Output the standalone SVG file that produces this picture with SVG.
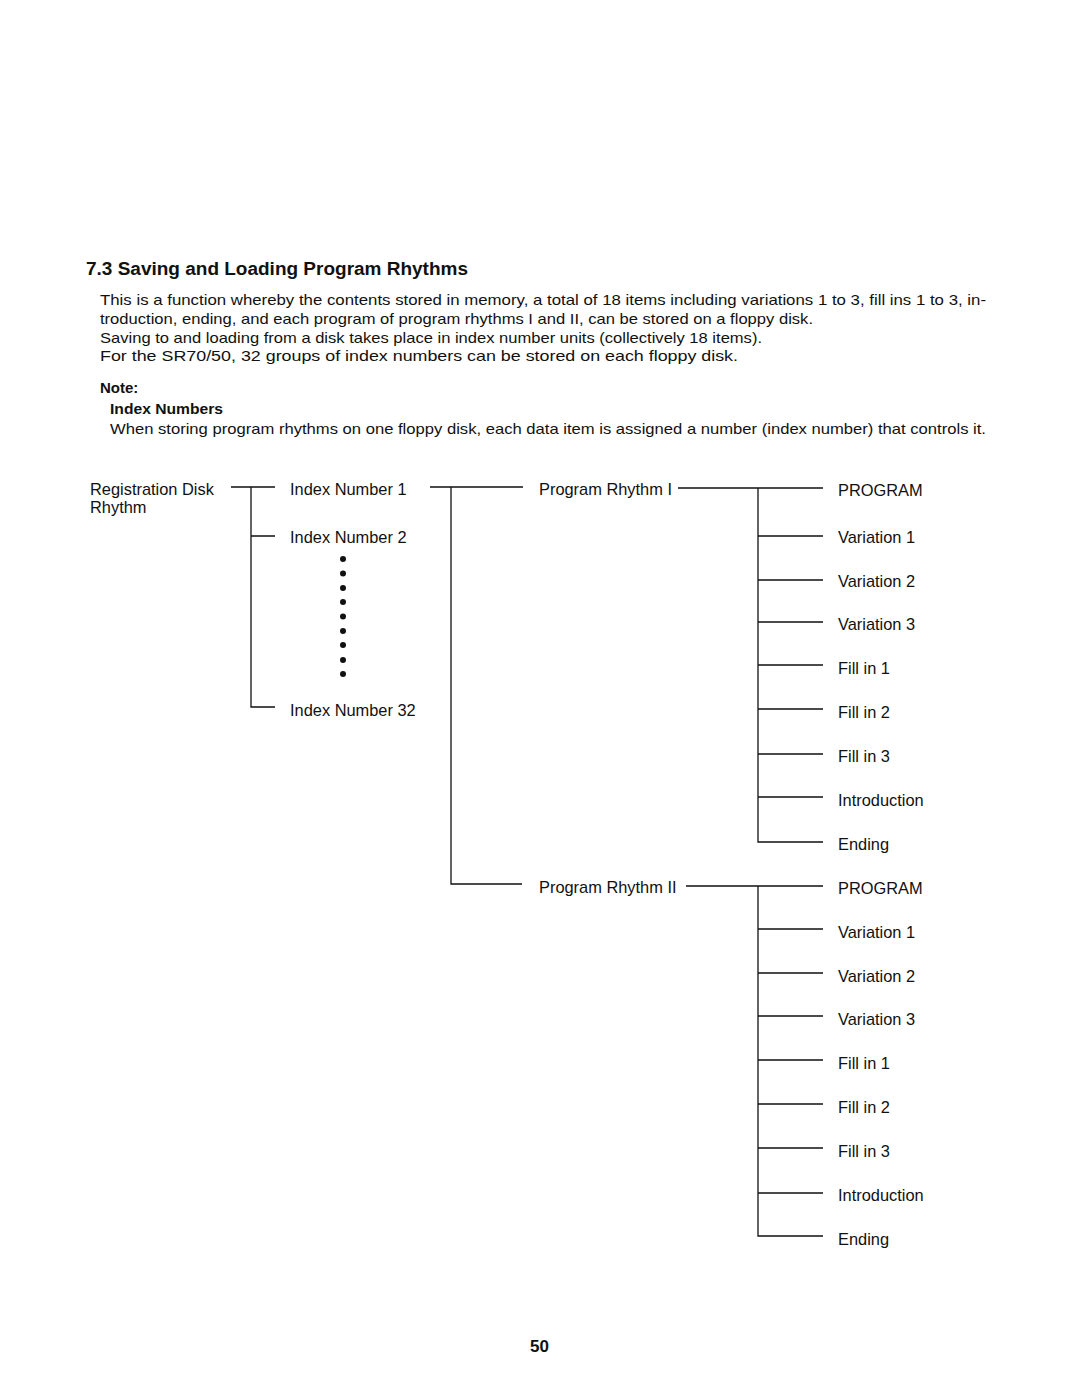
<svg xmlns="http://www.w3.org/2000/svg" width="1080" height="1397" viewBox="0 0 1080 1397">
<style>
text{font-family:"Liberation Sans",Arial,sans-serif;fill:#111}
.h{font-size:17.5px;font-weight:bold}
.b{font-size:15px}
.bb{font-size:15px;font-weight:bold}
.n{font-size:16.4px}
.c{stroke:#111;stroke-width:1.3;fill:none}
</style>
<rect width="1080" height="1397" fill="#fff"/>
<g id="heading">
<text class="h" x="86" y="275" textLength="382" lengthAdjust="spacingAndGlyphs">7.3  Saving and Loading Program Rhythms</text>
<text class="b" x="100" y="305" textLength="886" lengthAdjust="spacingAndGlyphs">This is a function whereby the contents stored in memory, a total of 18 items including variations 1 to 3, fill ins 1 to 3, in-</text>
<text class="b" x="100" y="324" textLength="713" lengthAdjust="spacingAndGlyphs">troduction, ending, and each program of program rhythms I and II, can be stored on a floppy disk.</text>
<text class="b" x="100" y="343" textLength="662" lengthAdjust="spacingAndGlyphs">Saving to and loading from a disk takes place in index number units (collectively 18 items).</text>
<text class="b" x="100" y="361" textLength="638" lengthAdjust="spacingAndGlyphs">For the SR70/50, 32 groups of index numbers can be stored on each floppy disk.</text>
<text class="bb" x="100" y="393">Note:</text>
<text class="bb" x="110" y="414" textLength="113" lengthAdjust="spacingAndGlyphs">Index Numbers</text>
<text class="b" x="110" y="434" textLength="876" lengthAdjust="spacingAndGlyphs">When storing program rhythms on one floppy disk, each data item is assigned a number (index number) that controls it.</text>
</g>
<g id="connectors" class="c">
<path d="M231 487H275M251 487V707H275M251 536H275"/>
<path d="M430 487H523M451 487V884H522"/>
<path d="M678 488H823M758 488V842H823M758 536H823M758 580H823M758 622H823M758 665H823M758 709H823M758 754H823M758 797H823"/>
<path d="M686 886H823M758 886V1236H823M758 929H823M758 973H823M758 1016H823M758 1060H823M758 1104H823M758 1148H823M758 1193H823"/>
</g>
<g id="node-registration"><text class="n" x="90" y="495">Registration Disk</text><text class="n" x="90" y="513">Rhythm</text></g>
<g id="node-index1"><text class="n" x="290" y="495">Index Number 1</text></g>
<g id="node-index2"><text class="n" x="290" y="543">Index Number 2</text></g>
<g id="node-dots" fill="#111">
<circle cx="343" cy="559" r="3"/><circle cx="343" cy="573.5" r="3"/><circle cx="343" cy="588" r="3"/><circle cx="343" cy="602" r="3"/><circle cx="343" cy="616.5" r="3"/><circle cx="343" cy="631" r="3"/><circle cx="343" cy="645" r="3"/><circle cx="343" cy="660" r="3"/><circle cx="343" cy="674" r="3"/>
</g>
<g id="node-index32"><text class="n" x="290" y="716">Index Number 32</text></g>
<g id="node-pr1"><text class="n" x="539" y="495">Program Rhythm I</text></g>
<g id="node-pr2"><text class="n" x="539" y="893">Program Rhythm II</text></g>
<g id="items-pr1">
<text class="n" x="838" y="496">PROGRAM</text>
<text class="n" x="838" y="543">Variation 1</text>
<text class="n" x="838" y="587">Variation 2</text>
<text class="n" x="838" y="630">Variation 3</text>
<text class="n" x="838" y="674">Fill in 1</text>
<text class="n" x="838" y="718">Fill in 2</text>
<text class="n" x="838" y="762">Fill in 3</text>
<text class="n" x="838" y="806">Introduction</text>
<text class="n" x="838" y="850">Ending</text>
</g>
<g id="items-pr2">
<text class="n" x="838" y="894">PROGRAM</text>
<text class="n" x="838" y="938">Variation 1</text>
<text class="n" x="838" y="982">Variation 2</text>
<text class="n" x="838" y="1025">Variation 3</text>
<text class="n" x="838" y="1069">Fill in 1</text>
<text class="n" x="838" y="1113">Fill in 2</text>
<text class="n" x="838" y="1157">Fill in 3</text>
<text class="n" x="838" y="1201">Introduction</text>
<text class="n" x="838" y="1245">Ending</text>
</g>
<text x="530" y="1352" font-size="17" font-weight="bold">50</text>
</svg>
